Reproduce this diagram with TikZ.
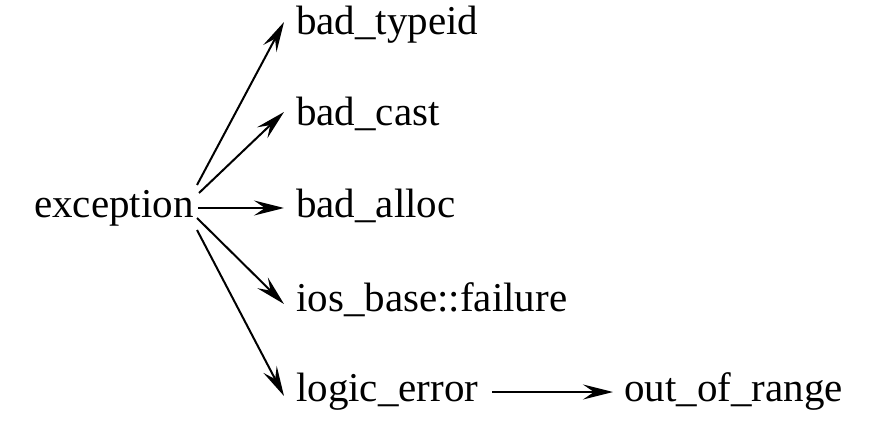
\documentclass[tikz,border=0pt]{standalone}
\usepackage{fontspec}
\setmainfont{Liberation Serif}
\usetikzlibrary{arrows.meta}
\begin{document}
\begin{tikzpicture}[x=1pt,y=-1pt,
  lbl/.style={inner sep=0pt,anchor=base west,font=\fontsize{41}{45}\selectfont},
  arr/.style={line width=2pt,-{Stealth[length=30pt,width=15pt,inset=11pt]}}]
\useasboundingbox (0,0) rectangle (870,422);
\node[lbl] (exc) at (34,218) {exception};
\node[lbl] (t1) at (296,35) {bad\_typeid};
\node[lbl] (t2) at (296,126) {bad\_cast};
\node[lbl] (t3) at (296,218) {bad\_alloc};
\node[lbl] (t4) at (296,311) {ios\_base::failure};
\node[lbl] (t5) at (296,401) {logic\_error};
\node[lbl] (t6) at (624,401) {out\_of\_range};
\coordinate (s1) at (197,185);
\coordinate (s2) at (199,193);
\coordinate (s3) at (198,208);
\coordinate (s4) at (197,218);
\coordinate (s5) at (197,230);
\coordinate (e1) at (284,22);
\coordinate (e2) at (284,112);
\coordinate (e3) at (284,208);
\coordinate (e4) at (284,304);
\coordinate (e5) at (284,396);
\coordinate (s6) at (492,392);
\coordinate (e6) at (613,392);
\draw[arr] (s1) -- (e1);
\draw[arr] (s2) -- (e2);
\draw[arr] (s3) -- (e3);
\draw[arr] (s4) -- (e4);
\draw[arr] (s5) -- (e5);
\draw[arr] (s6) -- (e6);
\end{tikzpicture}
\end{document}
